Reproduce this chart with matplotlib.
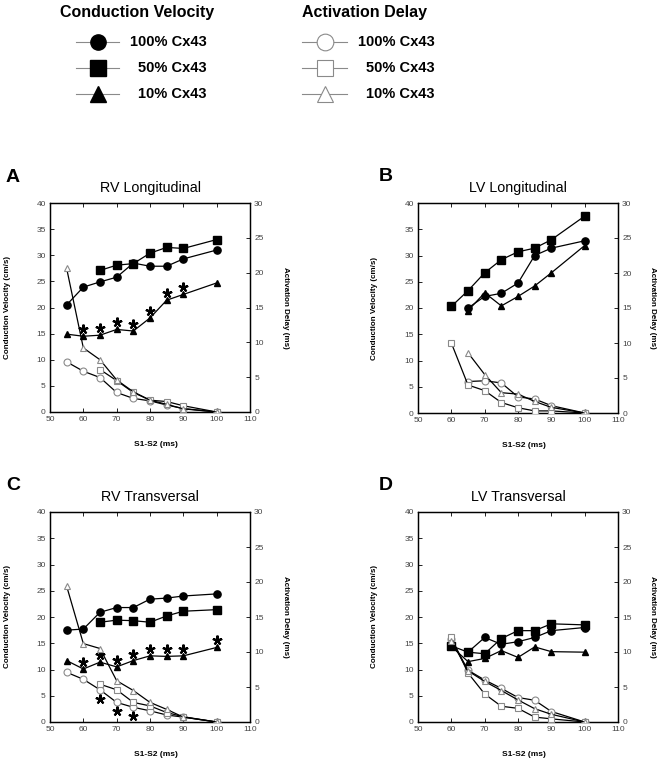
import matplotlib
matplotlib.use('Agg')
import matplotlib.pyplot as plt
import matplotlib.transforms as mtransforms

plt.rcParams['font.family'] = ['Liberation Sans', 'DejaVu Sans']

# ---------------- data ----------------
# Panel A: RV Longitudinal
A_x_full = [55, 60, 65, 70, 75, 80, 85, 90, 100]
A_x_65 = [65, 70, 75, 80, 85, 90, 100]
A_cv100 = [20.5, 23.9, 24.9, 25.8, 28.5, 27.9, 27.9, 29.3, 31.0]
A_cv50 = [27.1, 28.1, 28.4, 30.4, 31.5, 31.3, 33.0]
A_cv10 = [14.9, 14.5, 14.7, 15.8, 15.5, 18.0, 21.4, 22.5, 24.7]
A_ad100 = [7.2, 5.85, 4.95, 2.8, 1.95, 1.6, 1.0, 0.5, 0.0]
A_ad50 = [6.1, 4.5, 2.8, 1.7, 1.5, 0.9, 0.0]
A_ad10 = [20.6, 9.2, 7.5, 4.6, 2.9, 1.7, 1.1, 0.45, 0.0]
A_star_cv10 = [60, 65, 70, 75, 80, 85, 90]

# Panel B: LV Longitudinal
B_x_60 = [60, 65, 70, 75, 80, 85, 90, 100]
B_x_65 = [65, 70, 75, 80, 85, 90, 100]
B_cv100 = [20.0, 22.2, 22.8, 24.75, 30.0, 31.4, 32.8]
B_cv50 = [20.3, 23.3, 26.7, 29.2, 30.7, 31.4, 33.0, 37.5]
B_cv10 = [19.5, 22.9, 20.4, 22.2, 24.2, 26.7, 31.9]
B_ad100 = [4.5, 4.6, 4.3, 2.3, 2.0, 1.05, 0.0]
B_ad50 = [10.0, 4.0, 3.2, 1.5, 0.75, 0.3, 0.3, 0.0]
B_ad10 = [8.6, 5.5, 2.9, 2.7, 1.65, 0.8, 0.0]

# Panel C: RV Transversal
C_x_full = [55, 60, 65, 70, 75, 80, 85, 90, 100]
C_x_65 = [65, 70, 75, 80, 85, 90, 100]
C_cv100 = [17.5, 17.7, 20.9, 21.8, 21.8, 23.4, 23.6, 24.0, 24.4]
C_cv50 = [19.0, 19.4, 19.3, 19.0, 20.2, 21.1, 21.4]
C_cv10 = [11.7, 10.1, 11.4, 10.5, 11.7, 12.6, 12.5, 12.6, 14.2]
C_ad100 = [7.1, 6.1, 4.6, 2.8, 2.1, 1.6, 1.0, 0.7, 0.0]
C_ad50 = [5.4, 4.6, 2.8, 2.3, 1.35, 0.75, 0.0]
C_ad10 = [19.4, 11.2, 10.5, 5.9, 4.5, 2.8, 1.8, 0.7, 0.0]
C_star_cv10 = [60, 65, 70, 75, 80, 85, 90, 100]
C_star_ad100 = [65, 70, 75]

# Panel D: LV Transversal
D_x_60 = [60, 65, 70, 75, 80, 85, 90, 100]
D_x_65 = [65, 70, 75, 80, 85, 90, 100]
D_cv100 = [13.3, 16.1, 14.8, 15.3, 16.1, 17.4, 18.0]
D_cv50 = [14.5, 13.3, 13.0, 15.9, 17.4, 17.4, 18.7, 18.5]
D_cv10 = [14.4, 11.5, 12.1, 13.6, 12.3, 14.3, 13.4, 13.3]
D_ad100 = [11.8, 7.4, 6.0, 4.8, 3.5, 3.1, 1.5, 0.0]
D_ad50 = [12.1, 7.0, 4.0, 2.25, 1.95, 0.7, 0.45, 0.0]
D_ad10 = [11.6, 7.3, 5.8, 4.5, 3.15, 1.9, 1.1, 0.0]

x_ticks = [50, 60, 70, 80, 90, 100, 110]
cv_ticks = [0, 5, 10, 15, 20, 25, 30, 35, 40]
ad_ticks = [0, 5, 10, 15, 20, 25, 30]

# ---------------- figure ----------------
W, H = 662, 762
fig = plt.figure(figsize=(W / 100, H / 100), dpi=100)

GRAY = '#8a8a8a'
TICKC = '#444444'


def px_rect(left, top, right, bottom):
    return [left / W, 1 - bottom / H, (right - left) / W, (bottom - top) / H]


def panel(rect, letter, letter_x, title, cv, ad, stars_cv=None, stars_ad=None):
    ax = fig.add_axes(rect)
    ax2 = ax.twinx()
    for x, y, m, ms in cv:
        ax.plot(x, y, color='k', lw=0.9, marker=m, ms=ms, mfc='k', mec='k', zorder=3)
    for x, y, m, ms in ad:
        ax2.plot(x, y, color='k', lw=0.9, marker=m, ms=ms, mfc='white',
                 mec=GRAY, mew=0.8, zorder=3)
    ax.set_xlim(50, 110)
    ax.set_ylim(0, 40)
    ax2.set_ylim(0, 30)
    ax.set_xticks(x_ticks)
    ax.set_yticks(cv_ticks)
    ax2.set_yticks(ad_ticks)
    ax.tick_params(axis='both', direction='in', length=3, width=0.6,
                   labelsize=6, labelcolor=TICKC, pad=3, top=True, right=False)
    ax2.tick_params(axis='y', direction='in', length=3, width=0.6,
                    labelsize=6, labelcolor=TICKC, pad=3)
    for a in (ax, ax2):
        for s in a.spines.values():
            s.set_linewidth(0.9)
    ax.set_title(title, fontsize=10.3, pad=8)
    ax.set_ylabel('Conduction Velocity (cm/s)', fontsize=5.8, fontweight='bold',
                  va='center')
    ax.yaxis.set_label_coords(-0.215, 0.5)
    ax2.set_ylabel('Activation Delay (ms)', fontsize=5.8, fontweight='bold',
                   rotation=270, va='center')
    ax2.yaxis.set_label_coords(1.175, 0.5)
    ax.set_xlabel('S1-S2 (ms)', fontsize=6, fontweight='bold')
    ax.xaxis.set_label_coords(0.53, -0.14)
    ax.text(letter_x, 1.165, letter, transform=ax.transAxes, fontsize=14,
            fontweight='bold', va='top', ha='left')
    if stars_cv is not None:
        xs, ys = stars_cv
        tr = mtransforms.offset_copy(ax.transData, fig=fig, x=0, y=7, units='dots')
        ax.plot(xs, ys, ls='none', marker=(5, 2, 0), ms=7, mew=1.5, color='k',
                transform=tr, zorder=4, clip_on=False)
    if stars_ad is not None:
        xs, ys = stars_ad
        tr = mtransforms.offset_copy(ax2.transData, fig=fig, x=0, y=-9, units='dots')
        ax2.plot(xs, ys, ls='none', marker=(5, 2, 0), ms=7, mew=1.5, color='k',
                 transform=tr, zorder=4, clip_on=False)
    return ax, ax2


def pick(xs, ys, sel):
    d = dict(zip(xs, ys))
    return sel, [d[s] for s in sel]


# Panel A
panel(px_rect(50, 203, 250, 412), 'A', -0.22, 'RV Longitudinal',
      [(A_x_full, A_cv100, 'o', 5.2), (A_x_65, A_cv50, 's', 5.2), (A_x_full, A_cv10, '^', 4.6)],
      [(A_x_full, A_ad100, 'o', 5.0), (A_x_65, A_ad50, 's', 5.0), (A_x_full, A_ad10, '^', 5.0)],
      stars_cv=pick(A_x_full, A_cv10, A_star_cv10))

# Panel B
panel(px_rect(418, 203, 618, 413), 'B', -0.195, 'LV Longitudinal',
      [(B_x_65, B_cv100, 'o', 5.2), (B_x_60, B_cv50, 's', 5.2), (B_x_65, B_cv10, '^', 4.6)],
      [(B_x_65, B_ad100, 'o', 5.0), (B_x_60, B_ad50, 's', 5.0), (B_x_65, B_ad10, '^', 5.0)])

# Panel C
panel(px_rect(50, 512, 250, 722), 'C', -0.22, 'RV Transversal',
      [(C_x_full, C_cv100, 'o', 5.2), (C_x_65, C_cv50, 's', 5.2), (C_x_full, C_cv10, '^', 4.6)],
      [(C_x_full, C_ad100, 'o', 5.0), (C_x_65, C_ad50, 's', 5.0), (C_x_full, C_ad10, '^', 5.0)],
      stars_cv=pick(C_x_full, C_cv10, C_star_cv10),
      stars_ad=pick(C_x_full, C_ad100, C_star_ad100))

# Panel D
panel(px_rect(418, 512, 618, 722), 'D', -0.195, 'LV Transversal',
      [(D_x_65, D_cv100, 'o', 5.2), (D_x_60, D_cv50, 's', 5.2), (D_x_60, D_cv10, '^', 4.6)],
      [(D_x_60, D_ad100, 'o', 5.0), (D_x_60, D_ad50, 's', 5.0), (D_x_60, D_ad10, '^', 5.0)])

# ---------------- legend ----------------
lg = fig.add_axes([0, 0, 1, 1], zorder=-1)
lg.set_xlim(0, W)
lg.set_ylim(H, 0)
lg.axis('off')

leg_labels = ['100% Cx43', '50% Cx43', '10% Cx43']
leg_markers = ['o', 's', '^']
rows_y = [41.7, 67.7, 94.3]

lg.text(137, 12, 'Conduction Velocity', fontsize=11.5, fontweight='bold',
        ha='center', va='center')
lg.text(364, 12, 'Activation Delay', fontsize=11.5, fontweight='bold',
        ha='center', va='center')
for lab, m, y in zip(leg_labels, leg_markers, rows_y):
    lg.plot([76, 119], [y, y], color=GRAY, lw=0.8)
    lg.plot([97.7], [y], marker=m, ms=11, mfc='k', mec='k', ls='none')
    lg.text(207, y, lab, fontsize=10.5, fontweight='bold', ha='right', va='center')
    lg.plot([302, 347], [y, y], color=GRAY, lw=0.8)
    lg.plot([325], [y], marker=m, ms=12, mfc='white', mec=GRAY, mew=0.8, ls='none')
    lg.text(435, y, lab, fontsize=10.5, fontweight='bold', ha='right', va='center')

fig.savefig('out.png', dpi=100)
